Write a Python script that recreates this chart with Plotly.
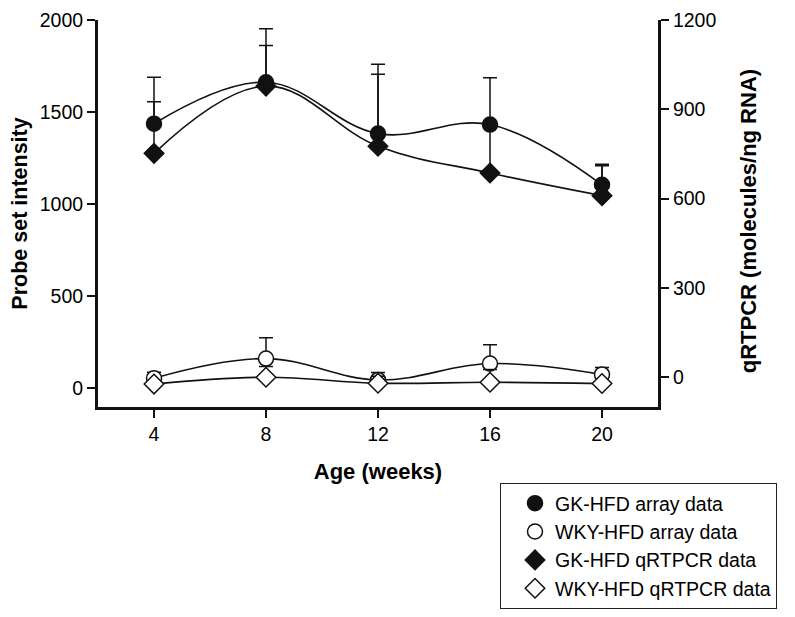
import plotly.graph_objects as go

# Data
age_weeks = [4, 8, 12, 16, 20]
gk_array = [1437, 1662, 1383, 1432, 1105]
gk_array_err = [252, 290, 376, 254, 112]
wky_array = [54, 161, 45, 134, 75]
wky_array_err = [33, 113, 41, 102, 38]
gk_qpcr = [752, 978, 776, 686, 610]
gk_qpcr_err = [173, 136, 242, 150, 100]
wky_qpcr = [-23, 0, -20, -17, -21]
wky_qpcr_err = [8, 36, 23, 43, 8]

left_ticks = [0, 500, 1000, 1500, 2000]
right_ticks = [0, 300, 600, 900, 1200]

FONT = "Liberation Sans, Arial, sans-serif"
INK = "#111111"

fig = go.Figure()

# smooth connecting curves (no legend)
for y, ax in [(gk_array, "y"), (wky_array, "y"), (gk_qpcr, "y2"), (wky_qpcr, "y2")]:
    fig.add_trace(go.Scatter(x=age_weeks, y=y, yaxis=ax, mode="lines",
                             line=dict(color=INK, width=1.6, shape="spline", smoothing=1.1),
                             showlegend=False, hoverinfo="skip"))

def err(vals):
    return dict(type="data", symmetric=False, array=vals, arrayminus=[0] * len(vals),
                color=INK, thickness=1.5, width=7)

series = [
    ("GK-HFD array data", gk_array, gk_array_err, "y", "circle", INK, 15),
    ("WKY-HFD array data", wky_array, wky_array_err, "y", "circle", "white", 15),
    ("GK-HFD qRTPCR data", gk_qpcr, gk_qpcr_err, "y2", "diamond", INK, 15),
    ("WKY-HFD qRTPCR data", wky_qpcr, wky_qpcr_err, "y2", "diamond", "white", 15),
]
for name, y, e, ax, sym, fill, size in series:
    fig.add_trace(go.Scatter(x=age_weeks, y=y, yaxis=ax, mode="markers", name=name,
                             error_y=err(e),
                             marker=dict(symbol=sym, size=size, color=fill,
                                         line=dict(color=INK, width=1.5))))

axis_common = dict(showgrid=False, zeroline=False, showline=True, linecolor=INK,
                   linewidth=3, ticks="outside", ticklen=8, tickwidth=1.6, tickcolor=INK,
                   automargin=True, ticklabeloverflow="allow",
                   tickfont=dict(family=FONT, size=19.5, color="black"))

# page body has an 8px margin; figure sized to fit the 795x617 window
W, H = 787, 609
TOP, BOTTOM = 12, 399
fig.update_layout(
    width=W, height=H,
    margin=dict(l=90, r=W - 650, t=TOP, b=H - BOTTOM, autoexpand=False),
    paper_bgcolor="white", plot_bgcolor="white",
    font=dict(family=FONT, color="black"),
    xaxis=dict(range=[2, 22], tickvals=age_weeks, ticktext=[str(a) for a in age_weeks],
               title=dict(text="<b>Age (weeks)</b>", font=dict(family=FONT, size=22), standoff=20),
               **axis_common),
    yaxis=dict(range=[-102, 2000], tickvals=left_ticks,
               title=dict(text="<b>Probe set intensity</b>", font=dict(family=FONT, size=21.5), standoff=13),
               **axis_common),
    yaxis2=dict(range=[-100, 1200], tickvals=right_ticks, overlaying="y", side="right",
                **axis_common),
    annotations=[dict(text="<b>qRTPCR (molecules/ng RNA)</b>", textangle=-90,
                      xref="paper", yref="paper", x=(740 - 90) / 560, y=0.48,
                      xanchor="center", yanchor="middle", showarrow=False,
                      font=dict(family=FONT, size=22, color="black"))],
    legend=dict(xref="container", yref="container", x=492 / W, y=1 - 475 / H,
                xanchor="left", yanchor="top",
                bordercolor="#222222", borderwidth=1, bgcolor="white",
                font=dict(family=FONT, size=19.5, color="black"),
                indentation=14, itemsizing="trace"),
    showlegend=True,
)

fig.write_html("out.html")
